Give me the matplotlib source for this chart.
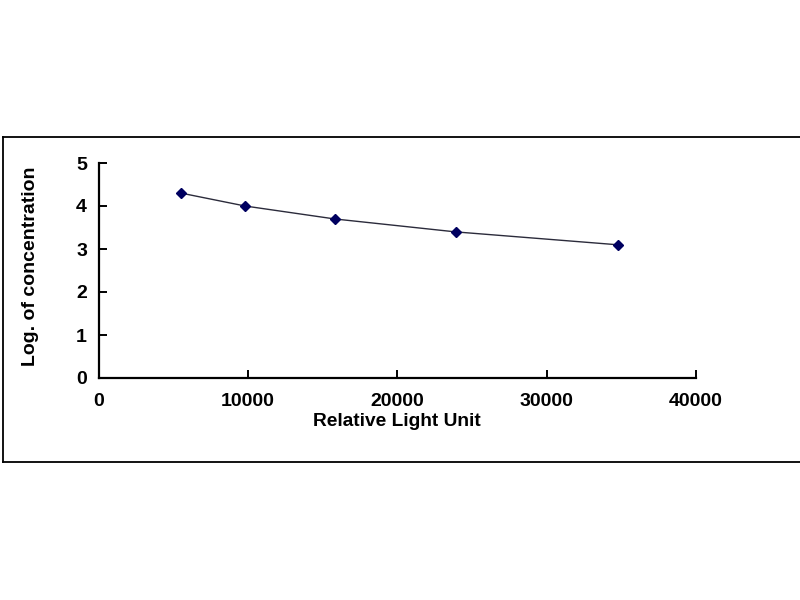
import matplotlib
matplotlib.use("Agg")
import matplotlib.pyplot as plt
from matplotlib.lines import Line2D

# Data
rlu = [5500, 9800, 15800, 23900, 34800]
log_conc = [4.301, 4.000, 3.699, 3.398, 3.097]
x_ticks = [0, 10000, 20000, 30000, 40000]
y_ticks = [0, 1, 2, 3, 4, 5]
x_label = "Relative Light Unit"
y_label = "Log. of concentration"

plt.rcParams['font.family'] = ['Liberation Sans', 'DejaVu Sans']

fig = plt.figure(figsize=(8, 6), dpi=100)
fig.patch.set_facecolor('white')

# outer frame (top, bottom, left lines)
fx0 = 2.5 / 800
fy_top = 1 - 137.3 / 600
fy_bot = 1 - 462 / 600
for xs, ys in [([fx0, 1.01], [fy_top, fy_top]),
               ([fx0, 1.01], [fy_bot, fy_bot]),
               ([fx0, fx0], [fy_bot, fy_top])]:
    fig.add_artist(Line2D(xs, ys, transform=fig.transFigure,
                          color='black', lw=1.3))

ax = fig.add_axes([98.7 / 800, 1 - 378 / 600, (696 - 98.7) / 800, 215 / 600])
ax.plot(rlu, log_conc, color='#2b2b3b', lw=1.0, zorder=2)
ax.plot(rlu, log_conc, linestyle='none', marker='D', markersize=5,
        color='#000060', zorder=3)

ax.set_xlim(x_ticks[0], x_ticks[-1])
ax.set_ylim(y_ticks[0], y_ticks[-1])
ax.set_xticks(x_ticks)
ax.set_yticks(y_ticks)
ax.set_xticklabels([str(t) for t in x_ticks], fontsize=14, fontweight='bold')
ax.set_yticklabels([str(t) for t in y_ticks], fontsize=14, fontweight='bold')

for s in ['top', 'right']:
    ax.spines[s].set_visible(False)
for s in ['left', 'bottom']:
    ax.spines[s].set_linewidth(1.6)
ax.tick_params(axis='both', direction='in', length=5.5, width=1.4)
ax.tick_params(axis='x', pad=10.5)
ax.tick_params(axis='y', pad=8.5)

ax.set_xlabel(x_label, fontsize=13.8, fontweight='bold')
ax.set_ylabel(y_label, fontsize=14, fontweight='bold')
ax.xaxis.set_label_coords(0.5, (378 - 422) / 215)
ax.xaxis.label.set_va('center')
ax.yaxis.set_label_coords((30.5 - 98.7) / 597.3, (378 - 266.7) / 215)
ax.yaxis.label.set_va('center')

fig.savefig('out.png', dpi=100, facecolor='white')
